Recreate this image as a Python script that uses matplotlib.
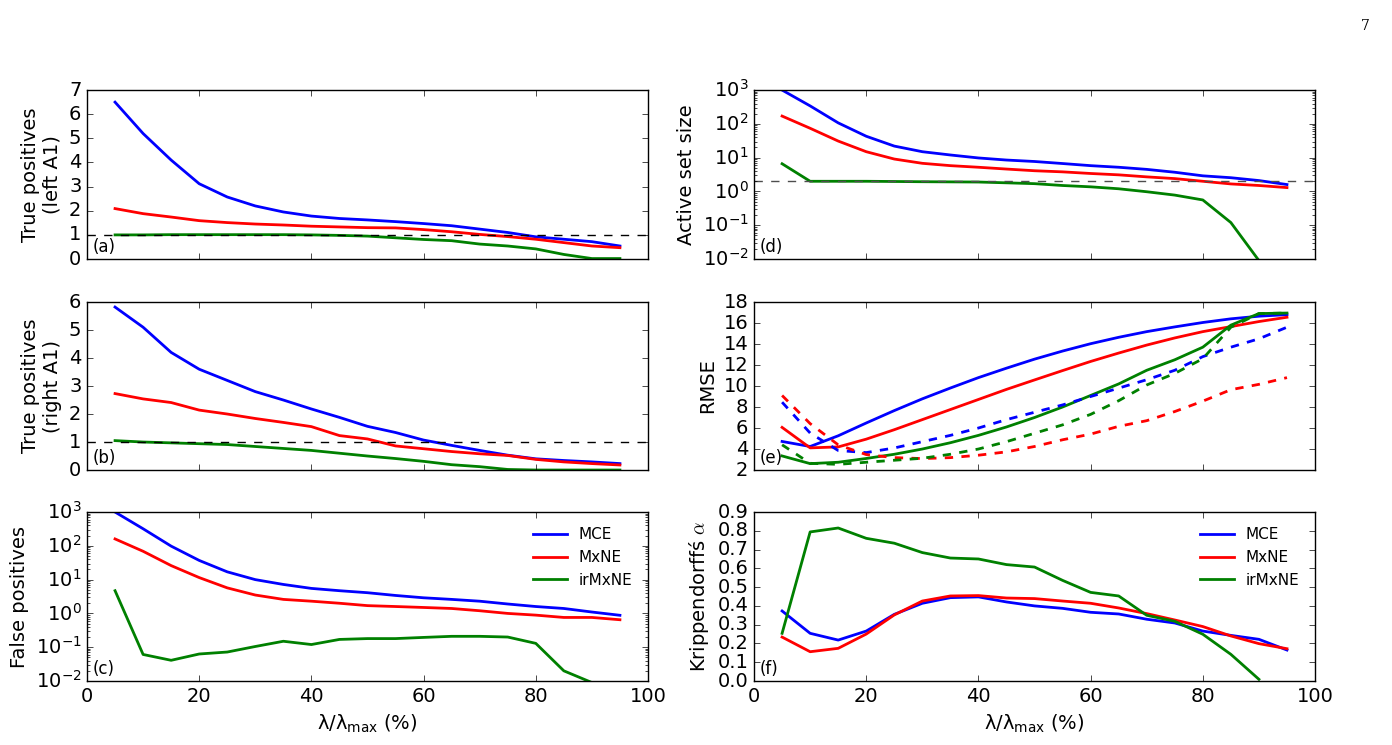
import numpy as np
import matplotlib
matplotlib.use('Agg')
import matplotlib.pyplot as plt

# lambda / lambda_max in percent
lam = [5, 10, 15, 20, 25, 30, 35, 40, 45, 50, 55, 60, 65, 70, 75, 80, 85, 90, 95]
methods = ['MCE', 'MxNE', 'irMxNE']
colors = ['b', 'r', 'g']

# (a) true positives, left A1
tp_left_mce = [6.5, 5.2, 4.1, 3.12, 2.57, 2.2, 1.95, 1.78, 1.68, 1.62, 1.55, 1.47, 1.38, 1.24, 1.1, 0.92, 0.82, 0.72, 0.54]
tp_left_mxne = [2.09, 1.88, 1.74, 1.59, 1.51, 1.45, 1.41, 1.36, 1.33, 1.3, 1.29, 1.22, 1.13, 1.02, 0.93, 0.82, 0.68, 0.54, 0.47]
tp_left_irmxne = [1.0, 1.0, 1.01, 1.01, 1.01, 1.01, 1.01, 1.0, 0.98, 0.95, 0.88, 0.81, 0.76, 0.62, 0.54, 0.42, 0.19, 0.02, 0.02]

# (b) true positives, right A1
tp_right_mce = [5.82, 5.1, 4.2, 3.6, 3.2, 2.8, 2.5, 2.18, 1.88, 1.56, 1.34, 1.07, 0.88, 0.7, 0.53, 0.4, 0.34, 0.29, 0.23]
tp_right_mxne = [2.73, 2.54, 2.41, 2.14, 2.0, 1.84, 1.7, 1.55, 1.23, 1.11, 0.86, 0.76, 0.66, 0.58, 0.52, 0.38, 0.29, 0.23, 0.18]
tp_right_irmxne = [1.05, 1.0, 0.97, 0.94, 0.91, 0.84, 0.77, 0.7, 0.6, 0.5, 0.41, 0.31, 0.19, 0.12, 0.02, 0.0, 0.0, 0.0, 0.0]

# (c) false positives
fp_mce = [1000, 320, 98, 37, 17, 10, 7.2, 5.5, 4.7, 4.1, 3.4, 2.9, 2.6, 2.3, 1.9, 1.6, 1.4, 1.1, 0.88]
fp_mxne = [160, 69, 26, 11.5, 5.7, 3.5, 2.6, 2.3, 2.0, 1.7, 1.6, 1.5, 1.4, 1.2, 1.0, 0.89, 0.76, 0.76, 0.65]
fp_irmxne = [4.7, 0.061, 0.041, 0.063, 0.072, 0.105, 0.15, 0.12, 0.17, 0.18, 0.18, 0.195, 0.21, 0.21, 0.2, 0.13, 0.02, 0.009, 0.0]

# (d) active set size
as_mce = [1000, 340, 107, 43, 22, 15, 12, 9.8, 8.5, 7.7, 6.7, 5.8, 5.2, 4.5, 3.7, 2.9, 2.55, 2.1, 1.6]
as_mxne = [170, 74, 31, 15, 9.1, 6.8, 5.8, 5.2, 4.6, 4.1, 3.8, 3.4, 3.1, 2.7, 2.4, 2.0, 1.67, 1.5, 1.3]
as_irmxne = [6.6, 2.0, 2.0, 2.0, 1.97, 1.94, 1.92, 1.9, 1.8, 1.7, 1.5, 1.37, 1.2, 0.98, 0.78, 0.56, 0.12, 0.009, 0.0]

# (e) RMSE, solid and dashed
rmse_mce = [4.72, 4.24, 5.26, 6.48, 7.66, 8.78, 9.81, 10.8, 11.7, 12.56, 13.33, 14.03, 14.64, 15.18, 15.63, 16.05, 16.4, 16.65, 16.8]
rmse_mxne = [6.06, 4.11, 4.2, 4.94, 5.84, 6.8, 7.76, 8.72, 9.68, 10.58, 11.47, 12.34, 13.14, 13.9, 14.58, 15.18, 15.66, 16.14, 16.55]
rmse_irmxne = [3.34, 2.61, 2.74, 3.1, 3.5, 4.0, 4.6, 5.3, 6.1, 7.0, 8.0, 9.1, 10.2, 11.5, 12.5, 13.7, 15.8, 16.9, 16.95]
rmse2_mce = [8.46, 5.52, 3.86, 3.66, 4.1, 4.7, 5.3, 6.0, 6.8, 7.5, 8.2, 9.0, 9.8, 10.6, 11.5, 12.8, 13.7, 14.5, 15.6]
rmse2_mxne = [9.1, 6.42, 4.4, 3.47, 3.18, 3.09, 3.18, 3.41, 3.73, 4.24, 4.88, 5.42, 6.16, 6.7, 7.57, 8.56, 9.65, 10.16, 10.8]
rmse2_irmxne = [4.4, 2.64, 2.54, 2.74, 2.93, 3.12, 3.5, 4.0, 4.7, 5.5, 6.3, 7.3, 8.6, 10.1, 11.2, 12.6, 15.6, 16.9, 16.95]

# (f) Krippendorff's alpha
ka_mce = [0.373, 0.254, 0.218, 0.266, 0.355, 0.414, 0.444, 0.448, 0.421, 0.4, 0.387, 0.366, 0.357, 0.329, 0.309, 0.266, 0.243, 0.222, 0.165]
ka_mxne = [0.234, 0.156, 0.174, 0.25, 0.352, 0.426, 0.453, 0.455, 0.442, 0.439, 0.426, 0.414, 0.389, 0.359, 0.325, 0.29, 0.24, 0.199, 0.172]
ka_irmxne = [0.254, 0.794, 0.815, 0.76, 0.734, 0.684, 0.655, 0.65, 0.62, 0.607, 0.536, 0.472, 0.453, 0.35, 0.318, 0.249, 0.142, 0.009, np.nan]

plt.style.use('classic')
plt.rcParams['font.family'] = ['DejaVu Sans']
plt.rcParams['font.size'] = 14
plt.rcParams['mathtext.fontset'] = 'dejavusans'
plt.rcParams['lines.linewidth'] = 2

fig = plt.figure(figsize=(13.92, 7.45), dpi=100)
fig.patch.set_facecolor('white')

lx, rx, w = 0.0625, 0.5417, 0.403
rows = [(0.6523, 0.2268), (0.3691, 0.2255), (0.0859, 0.2268)]

ax_a = fig.add_axes([lx, rows[0][0], w, rows[0][1]])
ax_b = fig.add_axes([lx, rows[1][0], w, rows[1][1]])
ax_c = fig.add_axes([lx, rows[2][0], w, rows[2][1]])
ax_d = fig.add_axes([rx, rows[0][0], w, rows[0][1]])
ax_e = fig.add_axes([rx, rows[1][0], w, rows[1][1]])
ax_f = fig.add_axes([rx, rows[2][0], w, rows[2][1]])

for series, c in zip([tp_left_mce, tp_left_mxne, tp_left_irmxne], colors):
    ax_a.plot(lam, series, c)
ax_a.axhline(1, color='k', linestyle='--', linewidth=1)
ax_a.set_ylim(0, 7)
ax_a.set_yticks(range(0, 8))
ax_a.set_ylabel('True positives\n(left A1)')

for series, c in zip([tp_right_mce, tp_right_mxne, tp_right_irmxne], colors):
    ax_b.plot(lam, series, c)
ax_b.axhline(1, color='k', linestyle='--', linewidth=1)
ax_b.set_ylim(0, 6)
ax_b.set_yticks(range(0, 7))
ax_b.set_ylabel('True positives\n(right A1)')

for series, c, m in zip([fp_mce, fp_mxne, fp_irmxne], colors, methods):
    ax_c.plot(lam, series, c, label=m)
ax_c.set_yscale('log')
ax_c.set_ylim(1e-2, 1e3)
ax_c.set_ylabel('False positives')
ax_c.legend(loc='upper right', frameon=False, fontsize=11, numpoints=1,
            handlelength=2.2, borderaxespad=0.6)

for series, c in zip([as_mce, as_mxne, as_irmxne], colors):
    ax_d.plot(lam, series, c)
ax_d.axhline(2, color='0.3', linestyle='--', linewidth=1)
ax_d.set_yscale('log')
ax_d.set_ylim(1e-2, 1e3)
ax_d.set_ylabel('Active set size')

for series, c in zip([rmse_mce, rmse_mxne, rmse_irmxne], colors):
    ax_e.plot(lam, series, c)
for series, c in zip([rmse2_mce, rmse2_mxne, rmse2_irmxne], colors):
    ax_e.plot(lam, series, c, linestyle='--')
ax_e.set_ylim(2, 18)
ax_e.set_yticks(range(2, 19, 2))
ax_e.set_ylabel('RMSE')

for series, c, m in zip([ka_mce, ka_mxne, ka_irmxne], colors, methods):
    ax_f.plot(lam, series, c, label=m)
ax_f.set_ylim(0, 0.9)
ax_f.set_yticks(np.arange(0, 0.91, 0.1))
ax_f.set_yticklabels(['%.1f' % v for v in np.arange(0, 0.91, 0.1)])
ax_f.set_ylabel(r'Krippendorffś $\alpha$', math_fontfamily='cm')
ax_f.legend(loc='upper right', frameon=False, fontsize=11, numpoints=1,
            handlelength=2.2, borderaxespad=0.6)

panels = [ax_a, ax_b, ax_c, ax_d, ax_e, ax_f]
labels = ['(a)', '(b)', '(c)', '(d)', '(e)', '(f)']
for ax, lab in zip(panels, labels):
    ax.set_xlim(0, 100)
    ax.set_xticks(range(0, 101, 20))
    ax.text(0.01, 0.02, lab, transform=ax.transAxes, fontsize=12,
            ha='left', va='bottom')
for ax in [ax_a, ax_b, ax_d, ax_e]:
    ax.set_xticklabels([])
for ax in [ax_c, ax_f]:
    ax.set_xlabel(r'λ/λ$_{\mathregular{max}}$ (%)')

fig.text(0.984, 0.975, '7', family='DejaVu Serif', fontsize=10, ha='right', va='top')

fig.savefig('out.png', dpi=100, facecolor='white')
